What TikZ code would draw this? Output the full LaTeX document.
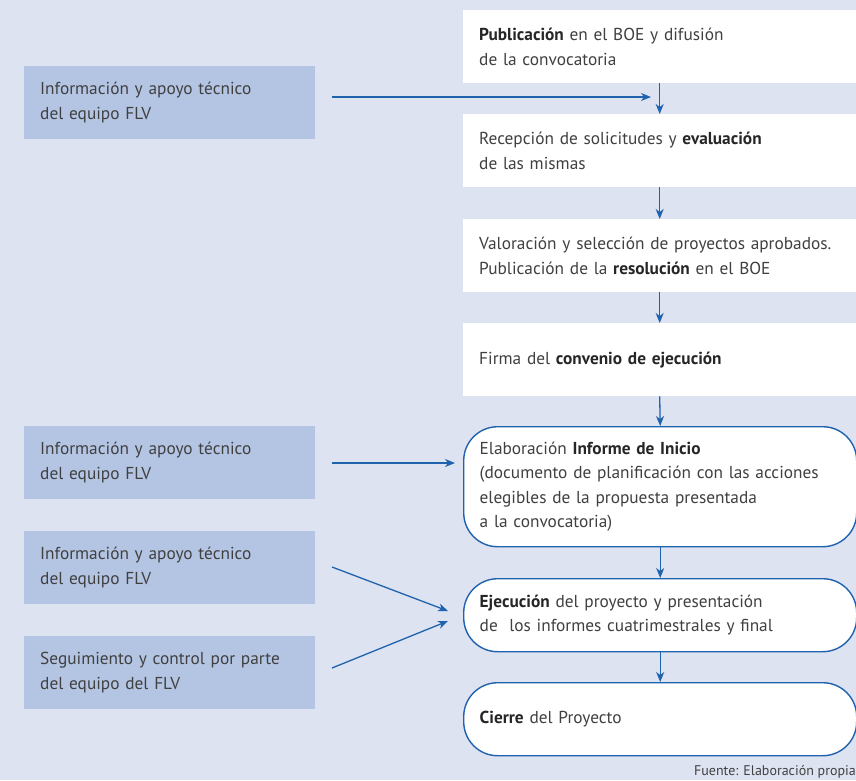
\documentclass[tikz,border=0pt]{standalone}
\usepackage{fontspec}
\setmainfont{PT Sans}
\usetikzlibrary{arrows.meta,calc}
\definecolor{bgc}{HTML}{DDE3F1}
\definecolor{lbox}{HTML}{B4C5E4}
\definecolor{arr}{HTML}{1F62AE}
\definecolor{txt}{HTML}{404040}
\tikzset{
  rbox/.style={fill=white, minimum width=393pt, minimum height=73pt, text width=361pt, inner xsep=16pt, inner ysep=0pt, align=left, anchor=north west, font=\fontsize{17.3}{24.5}\selectfont, text=txt},
  rrbox/.style={rbox, draw=arr, line width=1.4pt, rounded corners=34pt},
  lboxs/.style={fill=lbox, minimum width=291pt, minimum height=73pt, text width=259pt, inner xsep=16pt, inner ysep=0pt, align=left, anchor=north west, font=\fontsize{17.3}{24.5}\selectfont, text=txt},
  conn/.style={draw=arr, line width=1.3pt, -{Stealth[length=10pt,width=8pt,inset=3pt]}}
}
\newcommand{\bb}[1]{\textbf{\color{black!85}#1}}
\begin{document}
\begin{tikzpicture}[x=1pt,y=-1pt]
\fill[bgc] (0,0) rectangle (856,780);
\useasboundingbox (0,0) rectangle (856,780);
% right column
\node[rbox] (b1) at (463,10) {\bb{Publicación} en el BOE y difusión\\de la convocatoria};
\node[rbox] (b2) at (463,114) {Recepción de solicitudes y \bb{evaluación}\\de las mismas};
\node[rbox] (b3) at (463,219) {Valoración y selección de proyectos aprobados.\\Publicación de la \bb{resolución} en el BOE};
\node[rbox] (b4) at (463,323) {Firma del \bb{convenio de ejecución}};
\node[rrbox, minimum height=120pt] (b5) at (463,426) {Elaboración \bb{Informe de Inicio}\\(documento de planificación con las acciones\\elegibles de la propuesta presentada\\a la convocatoria)};
\node[rrbox] (b6) at (463,578) {\bb{Ejecución} del proyecto y presentación\\de\ \ los informes cuatrimestrales y final};
\node[rrbox] (b7) at (463,682) {\bb{Cierre} del Proyecto};
% left column
\node[lboxs] (l1) at (24,66) {Información y apoyo técnico\\del equipo FLV};
\node[lboxs] (l2) at (24,426) {Información y apoyo técnico\\del equipo FLV};
\node[lboxs] (l3) at (24,531) {Información y apoyo técnico\\del equipo FLV};
\node[lboxs] (l4) at (24,636) {Seguimiento y control por parte\\del equipo del FLV};
% footer
\node[anchor=base east, inner sep=0pt, font=\fontsize{14}{16}\selectfont, text=txt] (src) at (856,775) {Fuente: Elaboración propia};
% coordinates
\coordinate (s1) at (332,97);
\coordinate (e1) at (651,97);
\coordinate (s2) at (332,463);
\coordinate (e2) at (455,463);
\coordinate (s3) at (332,567);
\coordinate (e3) at (448,611);
\coordinate (s4) at (332,668);
\coordinate (e4) at (448,621);
% connectors
\draw[conn] (b1.south) -- (b2.north);
\draw[conn] (b2.south) -- (b3.north);
\draw[conn] (b3.south) -- (b4.north);
\draw[conn] (b4.south) -- (b5.north);
\draw[conn] (b5.south) -- (b6.north);
\draw[conn] (b6.south) -- (b7.north);
\draw[conn] (s1) -- (e1);
\draw[conn] (s2) -- (e2);
\draw[conn] (s3) -- (e3);
\draw[conn] (s4) -- (e4);
\end{tikzpicture}
\end{document}
